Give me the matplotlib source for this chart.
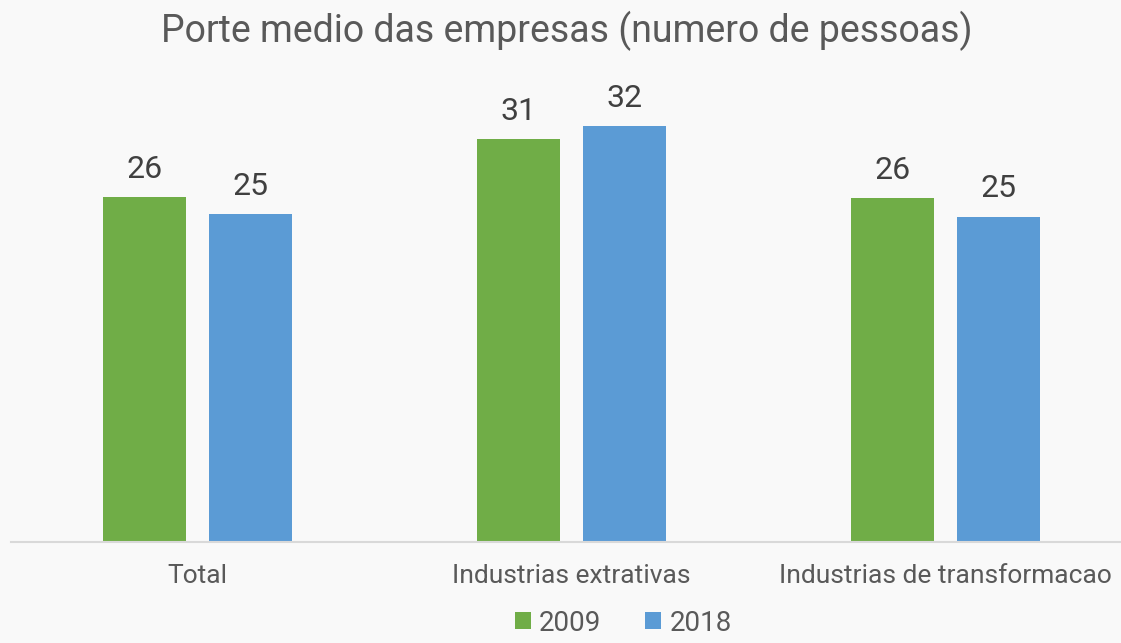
"""Porte medio das empresas - grouped bars 2009 vs 2018."""
import matplotlib.pyplot as plt
import numpy as np

plt.rcParams['font.family'] = ['Roboto', 'DejaVu Sans']

categories = ['Total', 'Industrias extrativas', 'Industrias de transformacao']
years = ['2009', '2018']
values_2009 = [26.3, 30.7, 26.2]
values_2018 = [25.0, 31.7, 24.8]

colors = ['#70AD47', '#5B9BD5']
bg = '#F9F9F9'

fig = plt.figure(figsize=(11.21, 6.43), dpi=100)
fig.patch.set_facecolor(bg)
ax = fig.add_axes([10.5 / 1121, 0.157, 1122 / 1121, 0.714])
ax.set_facecolor(bg)

x = np.arange(len(categories))
width = 0.222
offset = 0.1417

bars = []
for i, (vals, col, yr) in enumerate(zip([values_2009, values_2018], colors, years)):
    b = ax.bar(x + (i * 2 - 1) * offset, vals, width, color=col, label=yr)
    bars.append(b)
    for rect, v in zip(b, vals):
        ax.annotate(f'{v:.0f}', (rect.get_x() + rect.get_width() / 2, rect.get_height()),
                    xytext=(0, 14), textcoords='offset points',
                    ha='center', va='baseline', fontsize=23, color='#404040')

ax.set_xlim(-0.5, 2.5)
ax.set_ylim(0, 35)
ax.set_yticks([])
ax.set_xticks(x)
ax.set_xticklabels(categories, fontsize=19, color='#595959')
ax.tick_params(axis='x', length=0, pad=16)
for s in ['top', 'right', 'left']:
    ax.spines[s].set_visible(False)
ax.spines['bottom'].set_color('#D9D9D9')
ax.spines['bottom'].set_linewidth(1.5)

fig.text(0.506, 0.935, 'Porte medio das empresas (numero de pessoas)',
         ha='center', va='baseline', fontsize=27, color='#595959')

fig.legend(handles=bars, labels=years, loc='lower center', bbox_to_anchor=(0.556, -0.016),
           ncol=2, frameon=False, fontsize=20, labelcolor='#595959',
           handlelength=0.58, handleheight=0.58, handletextpad=0.29,
           columnspacing=1.58, borderpad=0.1)

plt.savefig('out.png', dpi=100, facecolor=bg)
